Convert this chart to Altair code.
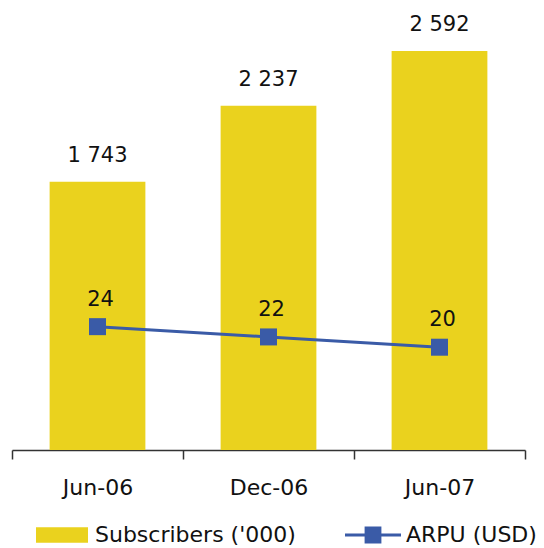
import altair as alt
import pandas as pd

periods = ["Jun-06", "Dec-06", "Jun-07"]
subscribers = [1743, 2237, 2592]
arpu = [24, 22, 20]
bar_series = "Subscribers ('000)"
line_series = "ARPU (USD)"

YELLOW = "#EAD21E"
BLUE = "#3A5BA7"
FONT = "DejaVu Sans"
TXT = "#111111"

df = pd.DataFrame({
    "period": periods,
    "subs": subscribers,
    "subs_label": [f"{v:,}".replace(",", " ") for v in subscribers],
    "arpu": arpu,
    "bar_series": [bar_series] * len(periods),
    "line_series": [line_series] * len(periods),
})

x = alt.X(
    "period:N",
    sort=periods,
    title=None,
    scale=alt.Scale(paddingInner=0, paddingOuter=0),
    axis=alt.Axis(
        labelAngle=0,
        labelFont=FONT,
        labelFontSize=22,
        labelColor=TXT,
        labelPadding=18,
        domainColor="#333333",
        domainWidth=1.5,
        tickColor="#333333",
        tickWidth=1.5,
        tickSize=9,
        tickBand="extent",
        grid=False,
    ),
)

y_sub = alt.Y("subs:Q", scale=alt.Scale(domain=[0, 2872], nice=False, zero=True), axis=None)
y_arpu = alt.Y("arpu:Q", scale=alt.Scale(domain=[0, 86], nice=False, zero=True), axis=None)

base = alt.Chart(df)

bars = base.mark_bar(width=alt.RelativeBandSize(0.56)).encode(
    x=x,
    y=y_sub,
    color=alt.Color(
        "bar_series:N",
        scale=alt.Scale(domain=[bar_series], range=[YELLOW]),
        legend=alt.Legend(
            title=None,
            orient="none",
            legendX=24,
            legendY=501,
            padding=0,
            symbolType="M-1,-0.3H1V0.3H-1Z",
            symbolSize=2704,
            symbolStrokeWidth=0,
            labelFont=FONT,
            labelFontSize=22,
            labelColor=TXT,
            labelOffset=7,
            labelLimit=0,
        ),
    ),
)

bar_text = base.mark_text(
    dy=-20, baseline="alphabetic", font=FONT, fontSize=21, color=TXT
).encode(x=x, y=y_sub, text="subs_label:N")

line = base.mark_line(color=BLUE, strokeWidth=3).encode(x=x, y=y_arpu)

points = base.mark_square(size=289, opacity=1).encode(
    x=x,
    y=y_arpu,
    fill=alt.Fill(
        "line_series:N",
        scale=alt.Scale(domain=[line_series], range=[BLUE]),
        legend=alt.Legend(
            title=None,
            orient="none",
            legendX=333,
            legendY=499,
            padding=0,
            symbolType="M-1,-0.05H1V0.05H-1Z M-0.3,-0.3H0.3V0.3H-0.3Z",
            symbolSize=3136,
            symbolStrokeWidth=0,
            labelFont=FONT,
            labelFontSize=22,
            labelColor=TXT,
            labelOffset=5,
            labelLimit=0,
        ),
    ),
)

point_text = base.mark_text(
    dy=-21, dx=3, baseline="alphabetic", font=FONT, fontSize=21, color=TXT
).encode(x=x, y=y_arpu, text="arpu:Q")

chart = (
    alt.layer(bars, bar_text, line, points, point_text)
    .resolve_scale(y="independent", color="independent", fill="independent")
    .properties(
        width=513,
        height=442,
        padding={"left": 4, "right": 11, "top": 0, "bottom": 98},
        autosize=alt.AutoSizeParams(type="none"),
        background="white",
    )
    .configure_view(stroke=None)
)

chart.save("out.html", embed_options={"renderer": "svg", "actions": False})
